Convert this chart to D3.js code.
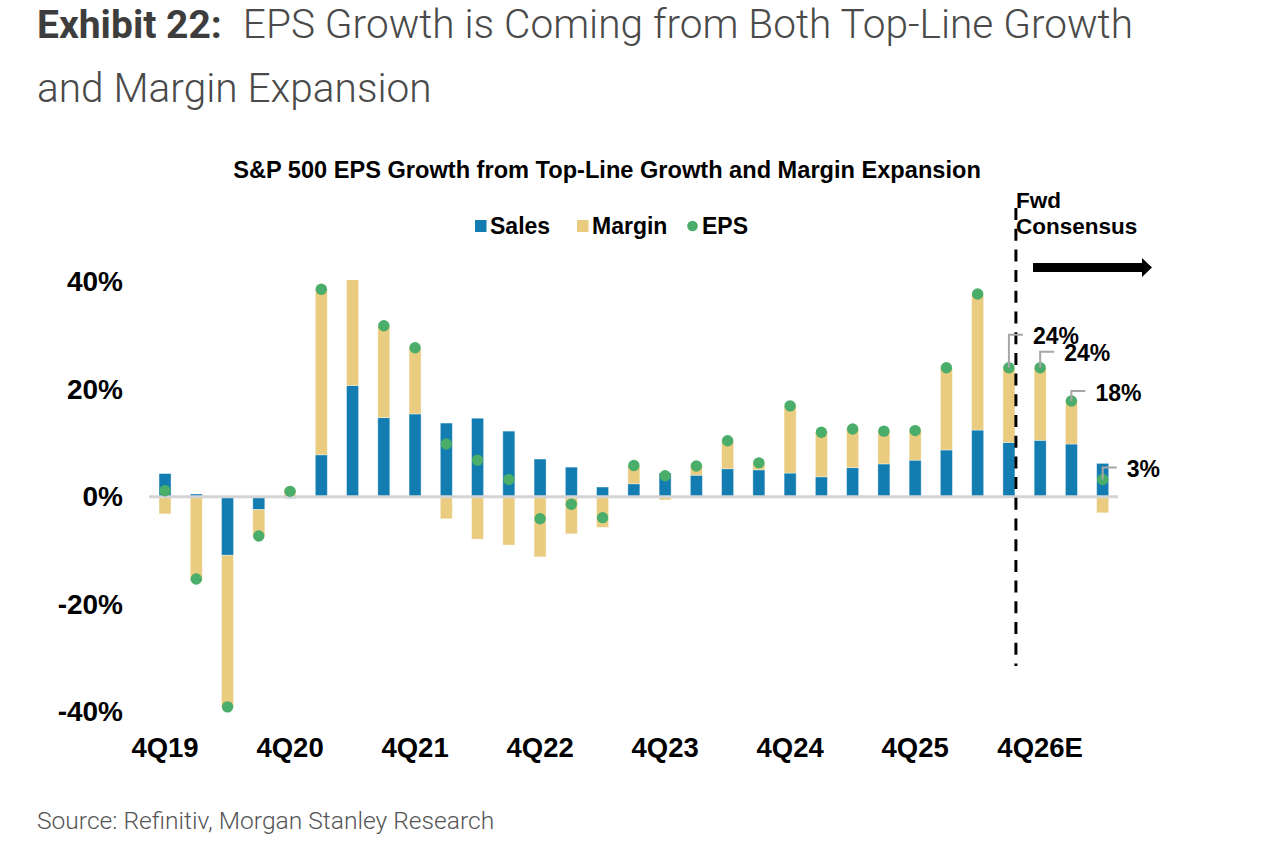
<!DOCTYPE html>
<html>
<head>
<meta charset="utf-8">
<script src="https://cdn.jsdelivr.net/npm/d3@7"></script>
<style>
  body { margin: 0; background: #fff; }
</style>
</head>
<body>
<script>
// quarters, 4Q19 .. 2Q27E
const quarters = ["4Q19","1Q20","2Q20","3Q20","4Q20","1Q21","2Q21","3Q21","4Q21","1Q22","2Q22","3Q22","4Q22",
  "1Q23","2Q23","3Q23","4Q23","1Q24","2Q24","3Q24","4Q24","1Q25","2Q25","3Q25","4Q25","1Q26","2Q26","3Q26",
  "4Q26E","1Q27E","2Q27E"];
const sales  = [4.3, 0.5, -10.9, -2.4, -0.3, 7.8, 20.7, 14.7, 15.4, 13.7, 14.6, 12.2, 7.0, 5.5, 1.8, 2.4,
  4.4, 4.0, 5.2, 5.0, 4.4, 3.7, 5.4, 6.1, 6.8, 8.7, 12.4, 10.1, 10.5, 9.8, 6.2];
const margin = [-3.2, -15.8, -28.3, -4.9, 1.3, 30.8, 71.3, 17.1, 12.3, -4.1, -7.9, -9.0, -11.2, -6.9, -5.7, 3.4,
  -0.6, 1.7, 5.2, 1.3, 12.5, 8.3, 7.2, 6.1, 5.5, 15.3, 25.3, 13.9, 13.5, 8.0, -3.0];
const eps    = [1.1, -15.3, -39.1, -7.3, 1.0, 38.6, 92.0, 31.8, 27.7, 9.8, 6.8, 3.2, -4.1, -1.4, -3.9, 5.8,
  3.9, 5.7, 10.4, 6.3, 16.9, 12.0, 12.6, 12.2, 12.3, 24.0, 37.7, 24.0, 24.0, 17.8, 3.2];

const yTicks = [-40, -20, 0, 20, 40];
const xTicks = ["4Q19","4Q20","4Q21","4Q22","4Q23","4Q24","4Q25","4Q26E"];
const labelled = ["3Q26","4Q26E","1Q27E","2Q27E"];
const lastActual = "3Q26";

const colors = { sales: "#137db2", margin: "#e9cc80", eps: "#4aad6a" };
const bold = "'Liberation Sans', Arial, sans-serif";

const width = 1287, height = 844;

const svg = d3.select("body").append("svg")
  .attr("width", width)
  .attr("height", height);

// exhibit heading
const head = svg.append("text")
  .attr("x", 37).attr("y", 38)
  .attr("font-family", "Roboto, sans-serif");
head.append("tspan").attr("font-weight", 700).attr("font-size", 39).attr("fill", "#3d3d3d").text("Exhibit 22:");
head.append("tspan").attr("font-weight", 300).attr("font-size", 40.6).attr("fill", "#4a4a4a").attr("dx", 21)
  .text("EPS Growth is Coming from Both Top-Line Growth");
svg.append("text")
  .attr("x", 37).attr("y", 102)
  .attr("font-family", "Roboto, sans-serif")
  .attr("font-size", 40.6).attr("font-weight", 300).attr("fill", "#4a4a4a")
  .text("and Margin Expansion");

svg.append("text")
  .attr("x", 607).attr("y", 178)
  .attr("text-anchor", "middle")
  .attr("font-family", bold).attr("font-weight", 700).attr("font-size", 23.6)
  .text("S&P 500 EPS Growth from Top-Line Growth and Margin Expansion");

// scales
const x = d3.scaleBand()
  .domain(quarters)
  .range([149.4, 1118.3])
  .paddingInner(0.616)
  .paddingOuter(0.308);

const y = d3.scaleLinear()
  .domain([-40, 40])
  .range([711.7, 281.7]);

const rows = quarters.map((q, i) => ({ q: q, sales: sales[i], margin: margin[i], eps: eps[i] }));
const stacked = d3.stack()
  .keys(["sales", "margin"])
  .offset(d3.stackOffsetDiverging)(rows);

svg.append("clipPath").attr("id", "plot")
  .append("rect").attr("x", 140).attr("y", 280).attr("width", 1000).attr("height", 440);

const bars = svg.append("g").attr("clip-path", "url(#plot)");
bars.selectAll("g")
  .data(stacked)
  .join("g")
  .attr("fill", s => colors[s.key])
  .selectAll("rect")
  .data(s => s)
  .join("rect")
  .attr("x", d => x(d.data.q))
  .attr("width", x.bandwidth())
  .attr("y", d => y(Math.max(d[0], d[1])))
  .attr("height", d => Math.abs(y(d[0]) - y(d[1])))
  .attr("stroke", "#ffffff")
  .attr("stroke-opacity", 0.45)
  .attr("stroke-width", 0.8);

// zero line
svg.append("line")
  .attr("x1", 149).attr("x2", 1118)
  .attr("y1", y(0)).attr("y2", y(0))
  .attr("stroke", "#d4d4d4").attr("stroke-width", 3);

// forecast divider, just right of the last actual bar
const divX = x(lastActual) + x.bandwidth() + 1;
svg.append("line")
  .attr("x1", divX).attr("x2", divX)
  .attr("y1", 208).attr("y2", 666)
  .attr("stroke", "#000").attr("stroke-width", 3)
  .attr("stroke-dasharray", "12,8.7");

// EPS dots
svg.append("g").attr("clip-path", "url(#plot)")
  .selectAll("circle")
  .data(rows)
  .join("circle")
  .attr("cx", d => x(d.q) + x.bandwidth() / 2)
  .attr("cy", d => y(d.eps))
  .attr("r", 5.7)
  .attr("fill", colors.eps);

// axes
const yAxis = svg.append("g")
  .attr("transform", "translate(149,0)")
  .call(d3.axisLeft(y).tickValues(yTicks).tickSize(0).tickPadding(26).tickFormat(d => d + "%"));
yAxis.select(".domain").remove();
yAxis.selectAll("text")
  .attr("font-family", bold).attr("font-weight", 700).attr("font-size", 28).attr("fill", "#000");

const xAxis = svg.append("g")
  .attr("transform", "translate(0,737)")
  .call(d3.axisBottom(x).tickValues(xTicks).tickSize(0).tickPadding(0));
xAxis.select(".domain").remove();
xAxis.selectAll("text")
  .attr("font-family", bold).attr("font-weight", 700).attr("font-size", 27.5).attr("fill", "#000");

// legend
const legend = svg.append("g")
  .attr("font-family", bold).attr("font-weight", 700).attr("font-size", 23);
const legendItems = [
  { key: "sales", label: "Sales", x: 475 },
  { key: "margin", label: "Margin", x: 577 },
  { key: "eps", label: "EPS", x: 687 }
];
legendItems.forEach(it => {
  if (it.key === "eps") {
    legend.append("circle").attr("cx", it.x + 5.5).attr("cy", 226).attr("r", 5.3).attr("fill", colors.eps);
  } else {
    legend.append("rect").attr("x", it.x).attr("y", 220).attr("width", 11.5).attr("height", 12).attr("fill", colors[it.key]);
  }
  legend.append("text").attr("x", it.x + 15).attr("y", 234).text(it.label);
});

// forward consensus note
const fwd = svg.append("text")
  .attr("font-family", bold).attr("font-weight", 700).attr("font-size", 22.5);
fwd.append("tspan").attr("x", divX).attr("y", 208).text("Fwd");
fwd.append("tspan").attr("x", divX).attr("y", 234).text("Consensus");

svg.append("path")
  .attr("d", d3.line()([[1033, 263], [1142, 263], [1142, 258], [1152, 267.5], [1142, 277], [1142, 272], [1033, 272]]) + "Z")
  .attr("fill", "#000");

// value callouts
const callouts = [
  { q: "3Q26", rise: 33, run: 14 },
  { q: "4Q26E", rise: 16, run: 14 },
  { q: "1Q27E", rise: 10, run: 14 },
  { q: "2Q27E", rise: 12, run: 14 }
];
const callG = svg.append("g");
callouts.filter(c => labelled.includes(c.q)).forEach(c => {
  const i = quarters.indexOf(c.q);
  const cx = x(c.q) + x.bandwidth() / 2;
  const cy = y(eps[i]);
  callG.append("path")
    .attr("d", d3.line()([[cx, cy], [cx, cy - c.rise], [cx + c.run, cy - c.rise]]))
    .attr("fill", "none").attr("stroke", "#a6a6a6").attr("stroke-width", 2);
  callG.append("text")
    .attr("x", cx + c.run + 10).attr("y", cy - c.rise + 9.5)
    .attr("font-family", bold).attr("font-weight", 700).attr("font-size", 23)
    .text(Math.round(eps[i]) + "%");
});

svg.append("text")
  .attr("x", 37).attr("y", 829)
  .attr("font-family", "Roboto, sans-serif").attr("font-weight", 300)
  .attr("font-size", 24.6).attr("fill", "#555")
  .text("Source: Refinitiv, Morgan Stanley Research");
</script>
</body>
</html>
